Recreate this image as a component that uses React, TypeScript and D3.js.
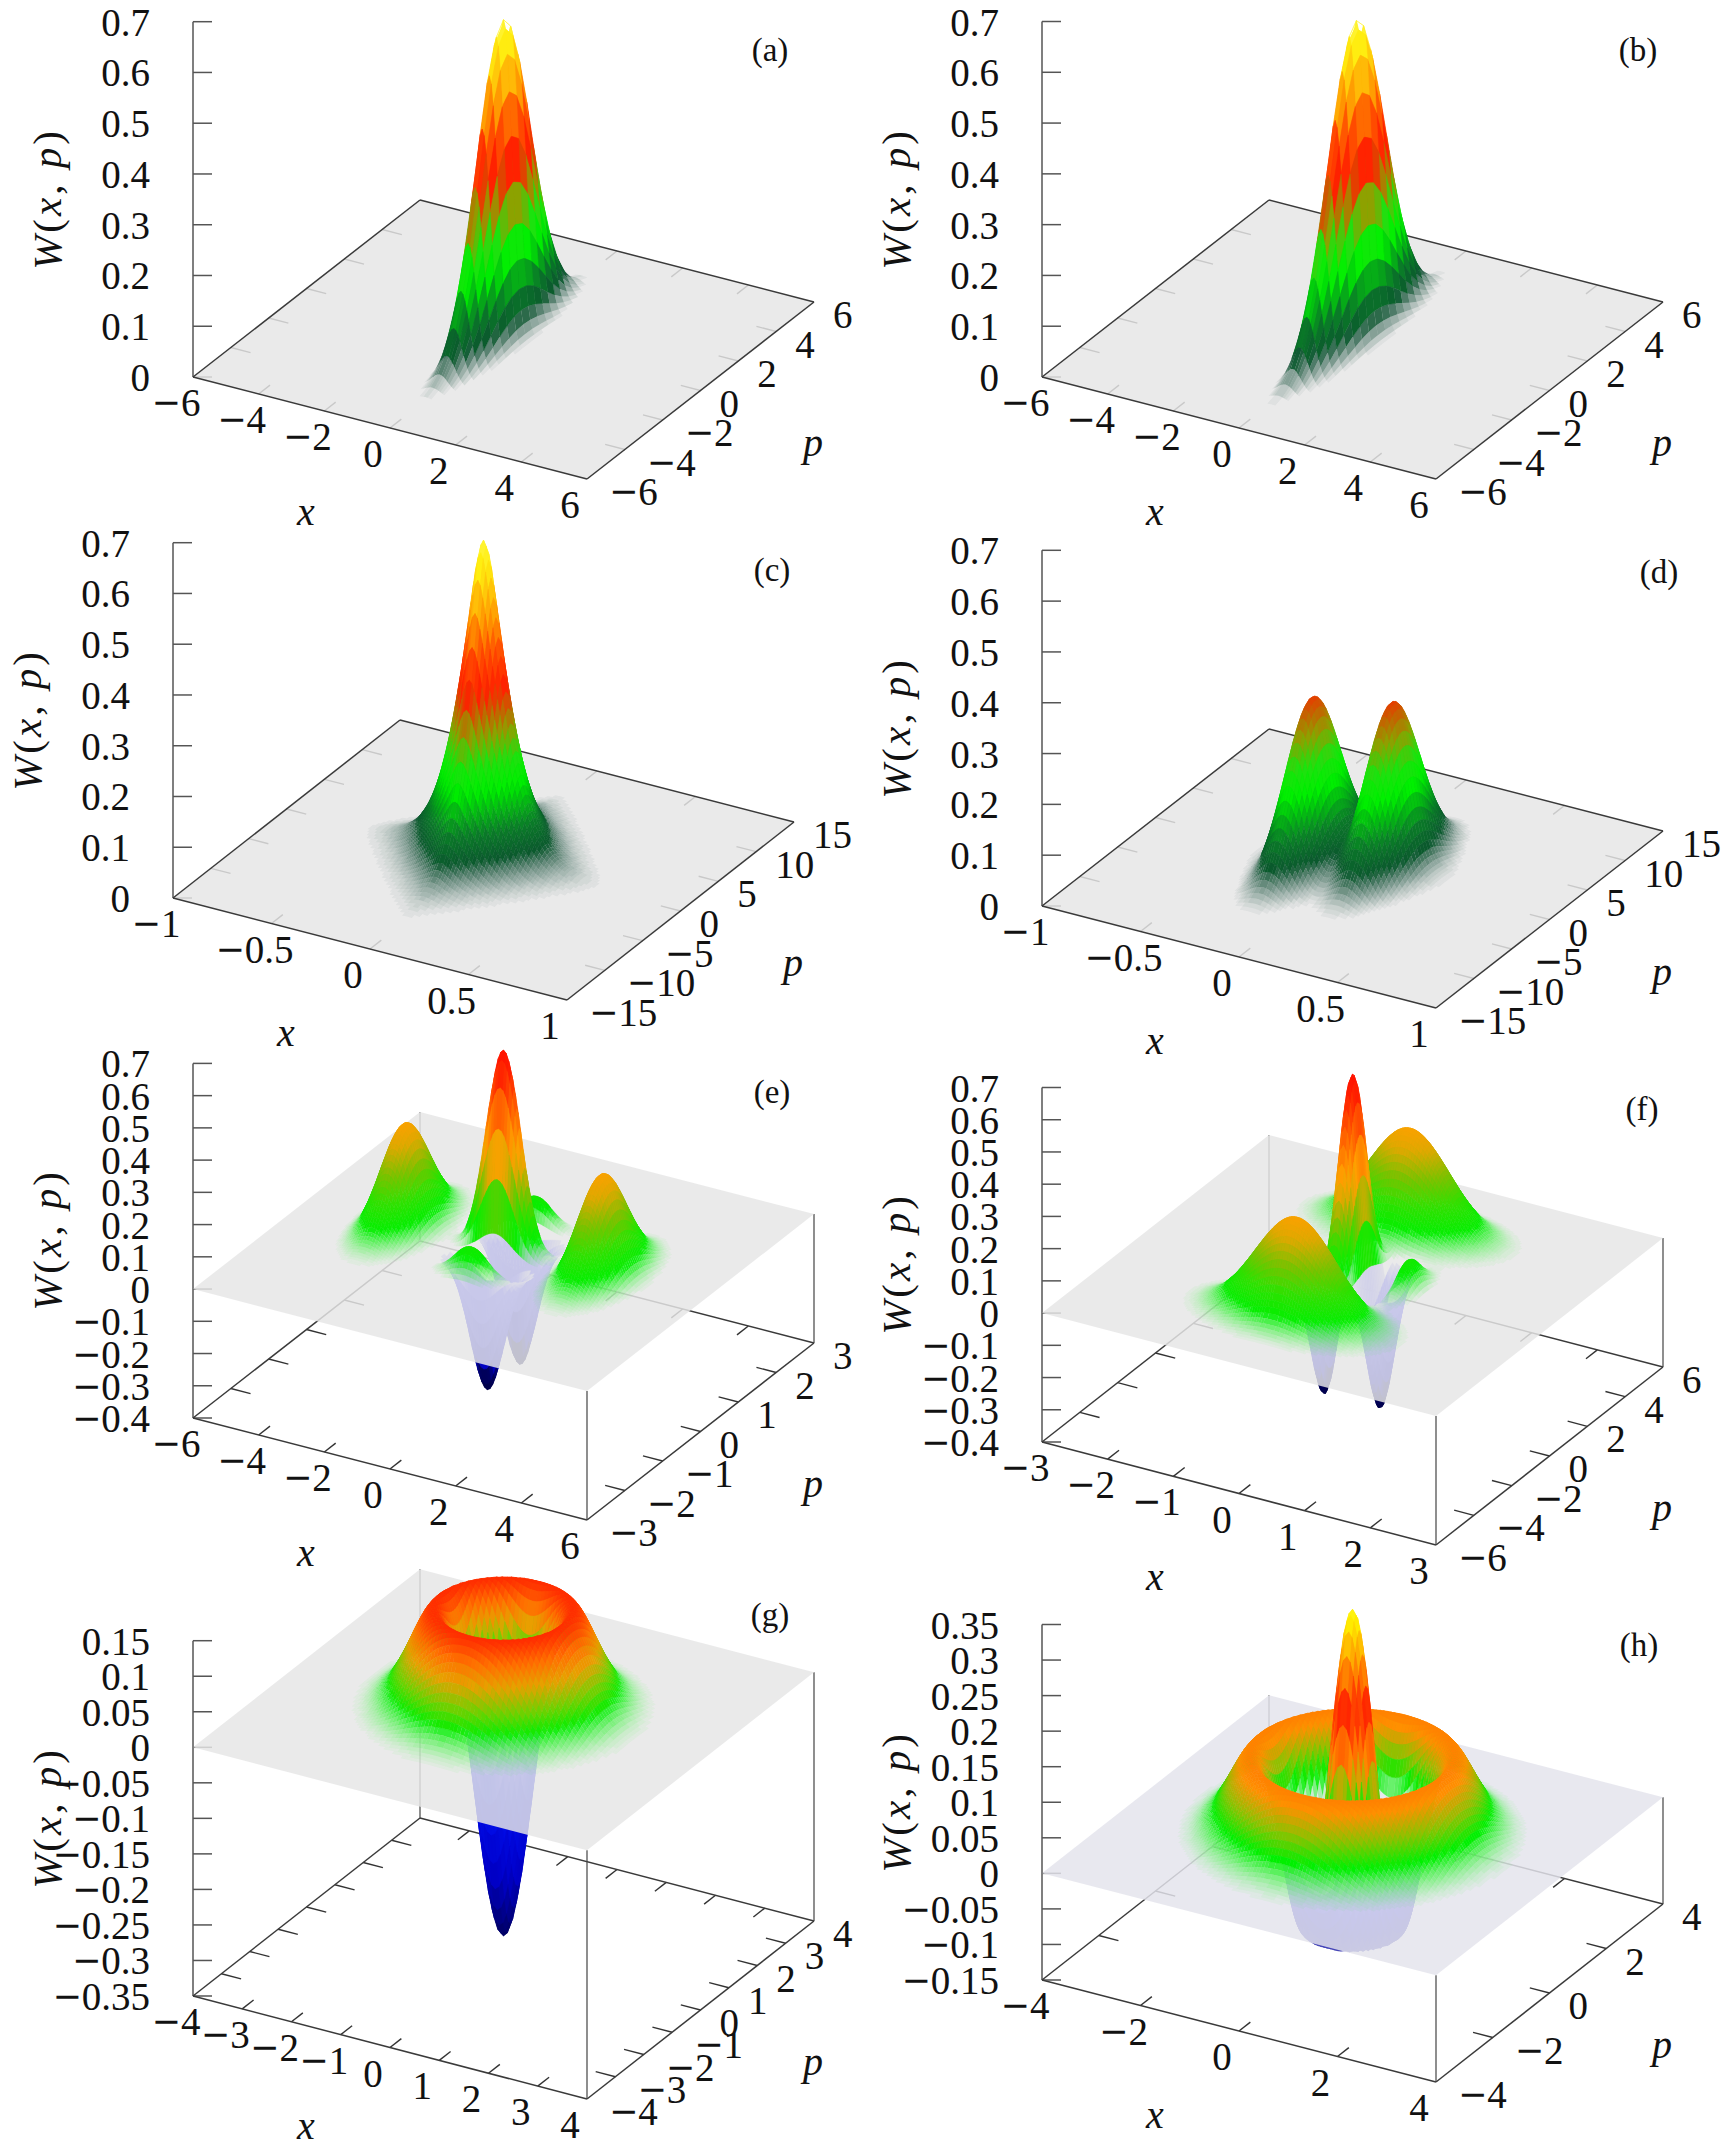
import React, { useEffect, useRef } from "react";
import * as d3 from "d3";

// ---- values ----
const panelIds = ["a", "b", "c", "d", "e", "f", "g", "h"];

const xTicksA = [-6, -4, -2, 0, 2, 4, 6];
const pTicksA = [-6, -4, -2, 0, 2, 4, 6];
const zTicksA = [0, 0.1, 0.2, 0.3, 0.4, 0.5, 0.6, 0.7];
const xTicksC = [-1, -0.5, 0, 0.5, 1];
const pTicksC = [-15, -10, -5, 0, 5, 10, 15];
const zTicksE = [-0.4, -0.3, -0.2, -0.1, 0, 0.1, 0.2, 0.3, 0.4, 0.5, 0.6, 0.7];
const pTicksE = [-3, -2, -1, 0, 1, 2, 3];
const xTicksF = [-3, -2, -1, 0, 1, 2, 3];
const xTicksG = [-4, -3, -2, -1, 0, 1, 2, 3, 4];
const zTicksG = [-0.35, -0.3, -0.25, -0.2, -0.15, -0.1, -0.05, 0, 0.05, 0.1, 0.15];
const xTicksH = [-4, -2, 0, 2, 4];
const zTicksH = [-0.15, -0.1, -0.05, 0, 0.05, 0.1, 0.15, 0.2, 0.25, 0.3, 0.35];

type Term = { a: number; x0?: number; p0?: number; wx: number; wp: number; kx?: number; kp?: number; poly?: number[]; cusp?: boolean };

// Surface features: height, centre, widths, fringe rate
const termsA: Term[] = [{ a: 0.63, wx: 0.13, wp: 3.7 }];
const termsB: Term[] = [{ a: 0.63, x0: 0.12, wx: 0.13, wp: 4.2 }];
const termsC: Term[] = [
  { a: 0.5, wx: 0.13, wp: 2.2, cusp: true },
  { a: 0.13, wx: 0.03, wp: 10 },
];
const termsD: Term[] = [
  { a: 0.3, x0: -0.165, p0: -1, wx: 0.012, wp: 19 },
  { a: 0.3, x0: 0.165, p0: 1, wx: 0.012, wp: 19 },
  { a: 0.03, x0: -0.165, p0: -1, wx: 0.05, wp: 12 },
  { a: 0.03, x0: 0.165, p0: 1, wx: 0.05, wp: 12 },
];
const termsE: Term[] = [
  { a: 0.318, x0: -3, wx: 0.5, wp: 0.5 },
  { a: 0.318, x0: 3, wx: 0.5, wp: 0.5 },
  { a: 0.625, wx: 0.5, wp: 0.42, kp: 6.7 },
];
const termsF: Term[] = [
  { a: 0.318, p0: -3, wx: 0.7, wp: 0.9 },
  { a: 0.318, p0: 3, wx: 0.7, wp: 0.9 },
  { a: 0.625, wx: 0.42, wp: 0.6, kx: 6.7 },
];
const termsG: Term[] = [{ a: 0.318, wx: 1, wp: 1, poly: [-1, 2, 0] }];
const termsH: Term[] = [{ a: 0.318, wx: 1, wp: 1, poly: [1, -4, 2] }];

type Stops = [number, string][];
const warmDark: Stops = [
  [0, "#0c3f33"], [0.04, "#0b4a30"], [0.1, "#0a7a28"], [0.175, "#00f000"], [0.22, "#20e010"],
  [0.27, "#8fa000"], [0.35, "#ff2000"], [0.42, "#ff5000"], [0.47, "#ff9000"], [0.58, "#ffee10"], [0.7, "#ffff80"],
];
const warmBright: Stops = [
  [0, "#30ff30"], [0.06, "#00f000"], [0.13, "#30e000"], [0.2, "#80c000"], [0.27, "#e0a800"],
  [0.33, "#ffa000"], [0.48, "#ff5000"], [0.56, "#ff2000"], [0.7, "#ff0000"],
];
const warmG: Stops = [
  [0, "#30ff30"], [0.035, "#00f000"], [0.06, "#70d000"], [0.09, "#e8a000"], [0.115, "#ff7000"], [0.14, "#ff3000"], [0.15, "#ff2000"],
];
const warmH: Stops = [
  [0, "#30ff30"], [0.04, "#00f000"], [0.07, "#90c000"], [0.1, "#ff9000"], [0.14, "#ff6000"], [0.18, "#ff2000"],
  [0.24, "#ff9000"], [0.3, "#ffee00"], [0.35, "#ffff40"],
];
const coldE: Stops = [[-0.4, "#000040"], [-0.33, "#000060"], [-0.29, "#0000c0"], [-0.15, "#2020f0"], [-0.05, "#3030ff"], [0, "#d8d8e8"]];
const coldG: Stops = [[-0.35, "#000040"], [-0.3, "#000070"], [-0.22, "#0000c8"], [-0.1, "#0010f0"], [-0.04, "#3030ff"], [0, "#d8d8e8"]];
const coldH: Stops = [[-0.15, "#5050a8"], [-0.1, "#3838c8"], [-0.04, "#4040ff"], [0, "#d8d8e8"]];

// ---- layout of each panel, in page pixels ----
type Pt = [number, number];
const leftCorner: Pt[] = [[193, 377], [1042, 377], [173, 898], [1042, 906], [193, 1418], [1042, 1442], [193, 1996], [1042, 1980]];
const bottomCorner: Pt[] = [[587, 479], [1436, 479], [567, 1000], [1436, 1008], [587, 1520], [1436, 1545], [587, 2099], [1436, 2082]];
const rightCorner: Pt[] = [[814, 302], [1663, 302], [794, 822], [1663, 831], [814, 1343], [1663, 1367], [814, 1921], [1663, 1904]];
const topY = [21.7, 21.5, 542.7, 550.3, 1063.4, 1087.5, 1640.7, 1624.5];
const tagPos: Pt[] = [[770, 50], [1638, 50], [772, 570], [1659, 572], [772, 1092], [1642, 1109], [770, 1615], [1639, 1645]];
const xLabelDy = [134, 134, 134, 134, 134, 134, 129, 134];

const xDomains = [[-6, 6], [-6, 6], [-1, 1], [-1, 1], [-6, 6], [-3, 3], [-4, 4], [-4, 4]];
const pDomains = [[-6, 6], [-6, 6], [-15, 15], [-15, 15], [-3, 3], [-6, 6], [-4, 4], [-4, 4]];
const zDomains = [[0, 0.7], [0, 0.7], [0, 0.7], [0, 0.7], [-0.4, 0.7], [-0.4, 0.7], [-0.35, 0.15], [-0.15, 0.35]];
const xTickSets = [xTicksA, xTicksA, xTicksC, xTicksC, xTicksA, xTicksF, xTicksG, xTicksH];
const pTickSets = [pTicksA, pTicksA, pTicksC, pTicksC, pTicksE, pTicksA, xTicksG, xTicksH];
const zTickSets = [zTicksA, zTicksA, zTicksA, zTicksA, zTicksE, zTicksE, zTicksG, zTicksH];
const termSets = [termsA, termsB, termsC, termsD, termsE, termsF, termsG, termsH];
const warmSets = [warmDark, warmDark, warmDark, warmDark, warmBright, warmBright, warmG, warmH];
const coldSets = [coldE, coldE, coldE, coldE, coldE, coldE, coldG, coldH];
const meshX = [200, 200, 160, 160, 150, 160, 110, 120];
const meshP = [32, 32, 80, 80, 140, 150, 110, 120];
const fadeLow = [0.006, 0.006, 0.006, 0.006, 0.006, 0.006, 0.003, 0.003];
const fadeTop = [0.06, 0.06, 0.06, 0.06, 0.07, 0.07, 0.04, 0.04];
const planeFill = ["#e6e6e6", "#e6e6e6", "#e6e6e6", "#e6e6e6", "#e6e6e6", "#e6e6e6", "#e6e6e6", "#e4e4ec"];

const FONT = "'Liberation Serif', serif";
const TICK_SIZE = 39;
const PLANE_ALPHA = 0.84;

function height(terms: Term[], x: number, p: number) {
  let z = 0;
  for (const t of terms) {
    const dx = x - (t.x0 ?? 0);
    const dp = p - (t.p0 ?? 0);
    let e: number;
    if (t.cusp) {
      const sx = 0.03, sp = 0.8;
      e = Math.exp(-(Math.sqrt(dx * dx + sx * sx) - sx) / t.wx - (Math.sqrt(dp * dp + sp * sp) - sp) / t.wp);
    } else {
      e = Math.exp(-(dx * dx) / t.wx - (dp * dp) / t.wp);
    }
    const c = Math.cos((t.kx ?? 0) * x + (t.kp ?? 0) * p);
    const r2 = x * x + p * p;
    const poly = t.poly ? t.poly[0] + t.poly[1] * r2 + t.poly[2] * r2 * r2 : 1;
    z += t.a * e * c * poly;
  }
  return z;
}

function drawPanel(root: d3.Selection<SVGGElement, unknown, null, undefined>, i: number) {
  const L = leftCorner[i], B = bottomCorner[i], R = rightCorner[i];
  const K: Pt = [L[0] + R[0] - B[0], L[1] + R[1] - B[1]];
  const [z0, z1] = zDomains[i];
  const us = d3.scaleLinear().domain(xDomains[i]).range([0, 1]);
  const vs = d3.scaleLinear().domain(pDomains[i]).range([0, 1]);
  const zs = d3.scaleLinear().domain([z0, z1]).range([L[1], topY[i]]);
  const proj = (x: number, p: number, z: number): Pt => {
    const u = us(x), v = vs(p);
    return [L[0] + u * (B[0] - L[0]) + v * (K[0] - L[0]), zs(z) + u * (B[1] - L[1]) + v * (K[1] - L[1])];
  };
  const pl = (pts: Pt[]) => "M" + pts.map((q) => q[0].toFixed(1) + "," + q[1].toFixed(1)).join("L") + "Z";
  const g = root.append("g");
  const xd = xDomains[i], pd = pDomains[i];
  const hasDepth = z0 < 0;
  const line = (a: Pt, b: Pt, color = "#3a3a3a", w = 1.5) =>
    g.append("line").attr("x1", a[0]).attr("y1", a[1]).attr("x2", b[0]).attr("y2", b[1]).attr("stroke", color).attr("stroke-width", w);

  // z axis
  line([L[0], zs(z0)], [L[0], zs(z1)], "#555", 1.5);
  zTickSets[i].forEach((t) => {
    line([L[0], zs(t)], [L[0] + 19, zs(t)], "#555", 1.5);
  });

  // floor ticks
  const xLen = 0.05 * (pd[1] - pd[0]), pLen = 0.05 * (xd[1] - xd[0]);
  xTickSets[i].slice(1, -1).forEach((t) => {
    line(proj(t, pd[0], z0), proj(t, pd[0] + xLen, z0), "#333", 1.4);
    line(proj(t, pd[1], z0), proj(t, pd[1] - xLen, z0), "#333", 1.4);
  });
  pTickSets[i].slice(1, -1).forEach((t) => {
    line(proj(xd[0], t, z0), proj(xd[0] + pLen, t, z0), "#333", 1.4);
    line(proj(xd[1], t, z0), proj(xd[1] - pLen, t, z0), "#333", 1.4);
  });
  const floorEdges = () => {
    line(proj(xd[0], pd[0], z0), proj(xd[1], pd[0], z0));
    line(proj(xd[1], pd[0], z0), proj(xd[1], pd[1], z0));
    line(proj(xd[1], pd[1], z0), proj(xd[0], pd[1], z0));
    line(proj(xd[0], pd[1], z0), proj(xd[0], pd[0], z0));
  };
  if (hasDepth) {
    floorEdges();
    line(proj(xd[0], pd[1], z0), proj(xd[0], pd[1], 0), "#444", 1.2);
    line(proj(xd[1], pd[0], z0), proj(xd[1], pd[0], 0), "#444", 1.2);
    line(proj(xd[1], pd[1], z0), proj(xd[1], pd[1], 0), "#444", 1.2);
  }

  // surface quads, far to near
  const nx = meshX[i], np = meshP[i];
  const xs = d3.range(nx + 1).map((k) => xd[0] + ((xd[1] - xd[0]) * k) / nx);
  const ps = d3.range(np + 1).map((k) => pd[1] - ((pd[1] - pd[0]) * k) / np);
  const terms = termSets[i];
  const grid = ps.map((p) => xs.map((x) => height(terms, x, p)));
  const warm = d3.scaleLinear<string>().domain(warmSets[i].map((s) => s[0])).range(warmSets[i].map((s) => s[1])).clamp(true);
  const cold = d3.scaleLinear<string>().domain(coldSets[i].map((s) => s[0])).range(coldSets[i].map((s) => s[1])).clamp(true);
  const lo = fadeLow[i], hi = fadeTop[i];
  type Bin = { d: string; fill: string; op: number };
  const neg: Bin[] = [], pos: Bin[] = [];
  const push = (list: Bin[], d: string, fill: string, op: number) => {
    const last = list[list.length - 1];
    if (last && last.fill === fill && last.op === op) last.d += d;
    else list.push({ d, fill, op });
  };
  for (let j = 0; j < np; j++) {
    for (let k = 0; k < nx; k++) {
      const a = grid[j][k], b = grid[j][k + 1], c = grid[j + 1][k + 1], e = grid[j + 1][k];
      const m = (a + b + c + e) / 4;
      if (m < -0.01 || m > lo) {
        const d = pl([proj(xs[k], ps[j], a), proj(xs[k + 1], ps[j], b), proj(xs[k + 1], ps[j + 1], c), proj(xs[k], ps[j + 1], e)]);
        if (m < 0) push(neg, d, cold(m), 1);
        else {
          const op = Math.min(1, Math.round(((m - lo) / (hi - lo)) * 20) / 20);
          if (op > 0) push(pos, d, warm(m), op);
        }
      }
    }
  }
  const paint = (list: Bin[]) =>
    g.append("g").selectAll("path").data(list).join("path")
      .attr("d", (s) => s.d)
      .attr("fill", (s) => s.fill)
      .attr("fill-opacity", (s) => s.op)
      .attr("stroke", (s) => (s.op === 1 ? s.fill : "none"))
      .attr("stroke-width", 0.5);
  paint(neg);

  // z = 0 sheet, translucent: what hangs below it shows through
  g.append("path")
    .attr("d", pl([proj(xd[0], pd[0], 0), proj(xd[1], pd[0], 0), proj(xd[1], pd[1], 0), proj(xd[0], pd[1], 0)]))
    .attr("fill", planeFill[i])
    .attr("fill-opacity", PLANE_ALPHA);
  if (!hasDepth) floorEdges();
  paint(pos);

  // text
  const label = (x: number, y: number, s: string, anchor: string, size = TICK_SIZE, italic = false) =>
    g.append("text").attr("x", x).attr("y", y).attr("text-anchor", anchor).attr("dominant-baseline", "central")
      .attr("font-family", FONT).attr("font-size", size).attr("font-style", italic ? "italic" : "normal").attr("fill", "#111").text(s);
  const tickLabel = (x: number, y: number, v: number, anchor: string) => {
    const t = label(x, y, "", anchor);
    if (v < 0) t.append("tspan").attr("font-family", "'DejaVu Serif', serif").attr("font-size", 35).text("\u2212");
    t.append("tspan").text(String(Math.abs(Math.round(v * 100) / 100)));
  };
  zTickSets[i].forEach((t) => tickLabel(L[0] - 43, zs(t), t, "end"));
  xTickSets[i].forEach((t) => {
    const q = proj(t, pd[0], z0);
    tickLabel(q[0] - 17, q[1] + 25, t, "middle");
  });
  pTickSets[i].forEach((t) => {
    const q = proj(xd[1], t, z0);
    tickLabel(q[0] + (t < 0 ? 22 : 19), q[1] + 12, t, "start");
  });
  label(L[0] + 113, L[1] + xLabelDy[i], "x", "middle", 40, true);
  label(R[0] - 1, R[1] + 140, "p", "middle", 40, true);
  const w = g.append("text")
    .attr("transform", `translate(${L[0] - 146},${L[1] - 178}) rotate(-90)`)
    .attr("text-anchor", "middle").attr("dominant-baseline", "central")
    .attr("font-family", FONT).attr("font-size", 41).attr("letter-spacing", 3).attr("fill", "#111");
  [["W", 1], ["(", 0], ["x", 1], [", ", 0], ["p", 1], [")", 0]].forEach(([s, it]) => {
    w.append("tspan").attr("font-style", it ? "italic" : "normal").text(s as string);
  });
  label(tagPos[i][0], tagPos[i][1], `(${panelIds[i]})`, "middle", 33);
}

export default function App() {
  const ref = useRef<SVGSVGElement>(null);
  useEffect(() => {
    const svg = d3.select(ref.current as SVGSVGElement);
    svg.selectAll("*").remove();
    const root = svg.append("g") as any;
    panelIds.forEach((_, i) => drawPanel(root, i));
  }, []);
  return (
    <svg ref={ref} width={1725} height={2147} viewBox="0 0 1725 2147"
      style={{ position: "absolute", left: 0, top: 0, display: "block", background: "#fff" }} />
  );
}
